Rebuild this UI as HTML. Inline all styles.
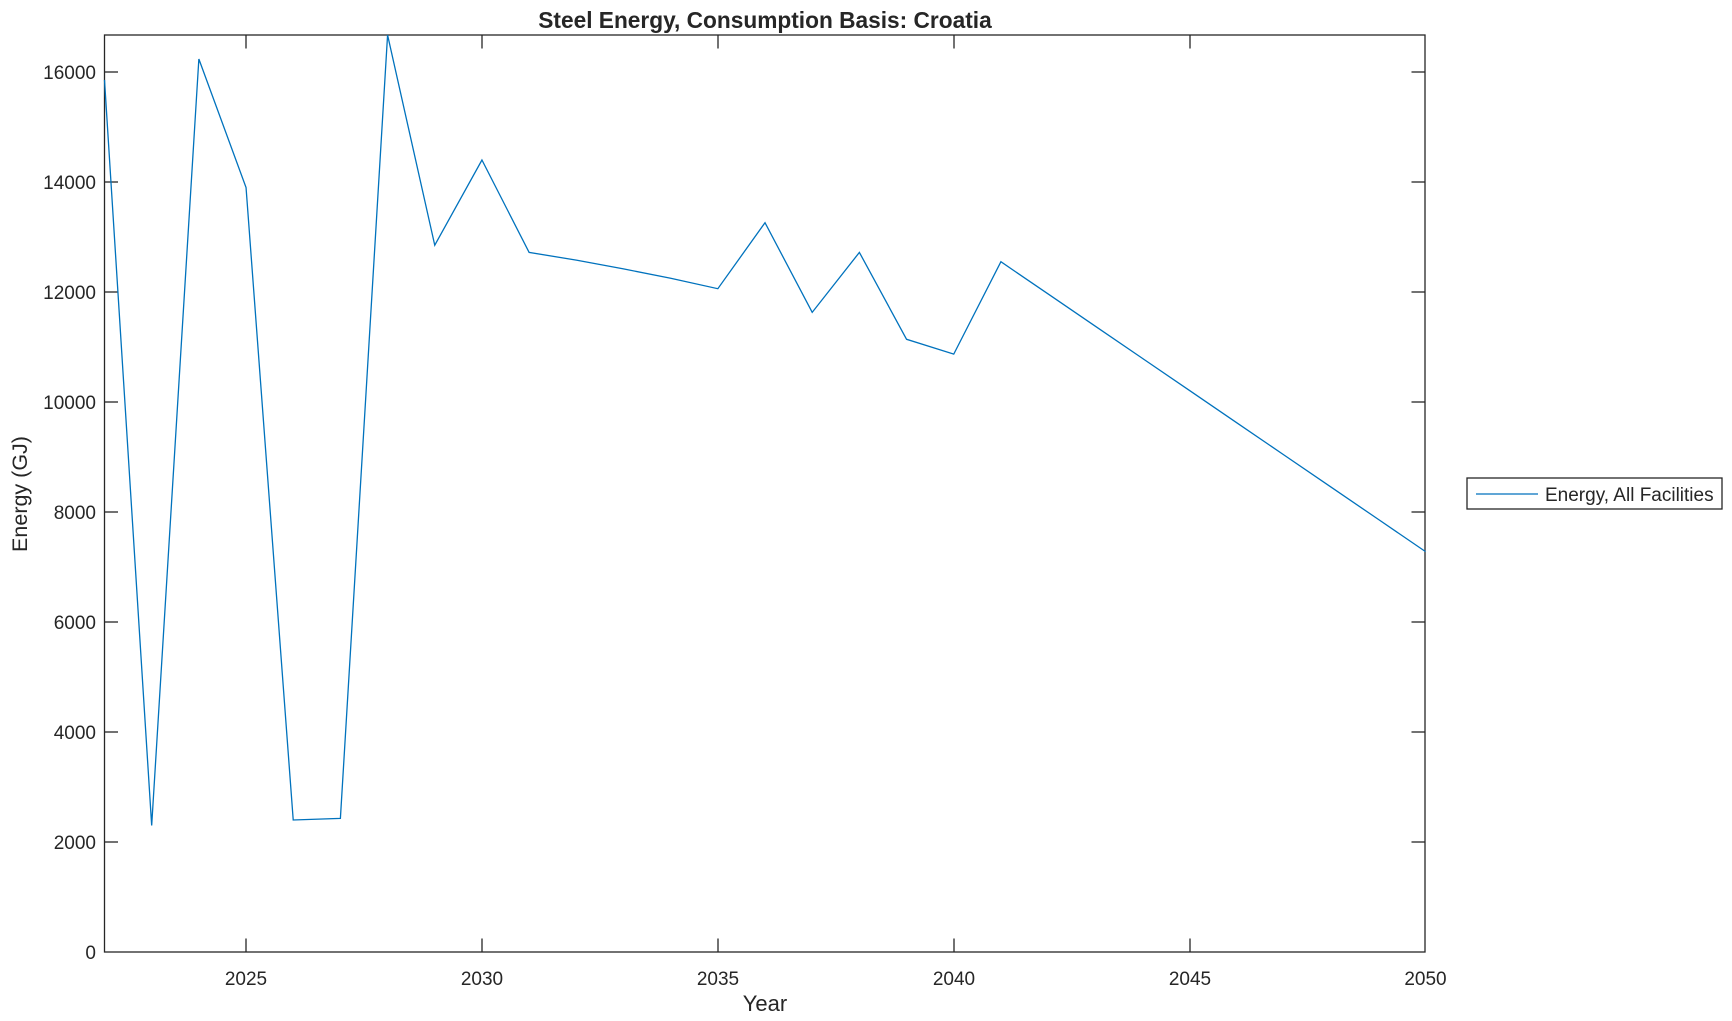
<!DOCTYPE html>
<html><head><style>body{margin:0;background:#fff}svg{display:block}text{font-family:"Liberation Sans",Arial,sans-serif;fill:#262626}</style></head>
<body>
<svg width="1732" height="1021" xmlns="http://www.w3.org/2000/svg">
<rect width="1732" height="1021" fill="#fff"/>
<text x="765" y="28" font-size="22.7" font-weight="bold" text-anchor="middle" fill="#000">Steel Energy, Consumption Basis: Croatia</text>
<rect x="104.5" y="35" width="1320.5" height="917" fill="none" stroke="#262626" stroke-width="1.3"/>
<g stroke="#262626" stroke-width="1.3">
<line x1="104.5" y1="842" x2="118" y2="842"/><line x1="1411.5" y1="842" x2="1425" y2="842"/>
<line x1="104.5" y1="732" x2="118" y2="732"/><line x1="1411.5" y1="732" x2="1425" y2="732"/>
<line x1="104.5" y1="622" x2="118" y2="622"/><line x1="1411.5" y1="622" x2="1425" y2="622"/>
<line x1="104.5" y1="512" x2="118" y2="512"/><line x1="1411.5" y1="512" x2="1425" y2="512"/>
<line x1="104.5" y1="402" x2="118" y2="402"/><line x1="1411.5" y1="402" x2="1425" y2="402"/>
<line x1="104.5" y1="292" x2="118" y2="292"/><line x1="1411.5" y1="292" x2="1425" y2="292"/>
<line x1="104.5" y1="182" x2="118" y2="182"/><line x1="1411.5" y1="182" x2="1425" y2="182"/>
<line x1="104.5" y1="72" x2="118" y2="72"/><line x1="1411.5" y1="72" x2="1425" y2="72"/>
<line x1="246" y1="952" x2="246" y2="938.5"/><line x1="246" y1="35" x2="246" y2="48.5"/>
<line x1="482" y1="952" x2="482" y2="938.5"/><line x1="482" y1="35" x2="482" y2="48.5"/>
<line x1="718" y1="952" x2="718" y2="938.5"/><line x1="718" y1="35" x2="718" y2="48.5"/>
<line x1="954" y1="952" x2="954" y2="938.5"/><line x1="954" y1="35" x2="954" y2="48.5"/>
<line x1="1190" y1="952" x2="1190" y2="938.5"/><line x1="1190" y1="35" x2="1190" y2="48.5"/>
</g>
<polyline fill="none" stroke="#0072bd" stroke-width="1.3" id="series"/>
<g font-size="19" text-anchor="end">
<text x="96" y="959">0</text>
<text x="96" y="849">2000</text>
<text x="96" y="739">4000</text>
<text x="96" y="629">6000</text>
<text x="96" y="519">8000</text>
<text x="96" y="409">10000</text>
<text x="96" y="299">12000</text>
<text x="96" y="189">14000</text>
<text x="96" y="79">16000</text>
</g>
<g font-size="19" text-anchor="middle">
<text x="246" y="985">2025</text>
<text x="482" y="985">2030</text>
<text x="718" y="985">2035</text>
<text x="954" y="985">2040</text>
<text x="1190" y="985">2045</text>
<text x="1425.5" y="985">2050</text>
</g>
<text x="765" y="1011" font-size="22" text-anchor="middle">Year</text>
<text transform="translate(27,494) rotate(-90)" font-size="21.5" text-anchor="middle">Energy (GJ)</text>
<rect x="1467" y="478" width="255" height="31" fill="#fff" stroke="#262626" stroke-width="1.3"/>
<line x1="1476" y1="494" x2="1538" y2="494" stroke="#0072bd" stroke-width="1.3"/>
<text x="1545" y="501" font-size="19">Energy, All Facilities</text>
<script>
var X=function(y){return 104.5+(y-2022)*47.18},Y=function(v){return 952-v*0.055};
var d=[15855,2300,16236,13900,2400,2430,16673,12850,14400,12720,12580,12420,12250,12060,13260,11630,12720,11140,10870,12550];
var pts=d.map(function(v,i){return X(2022+i)+','+Y(v)});
for(var i=1;i<=9;i++)pts.push(X(2041+i)+','+Y(12550-(12550-7280)*i/9));
document.getElementById('series').setAttribute('points',pts.join(' '));
</script>
</svg>
</body></html>
